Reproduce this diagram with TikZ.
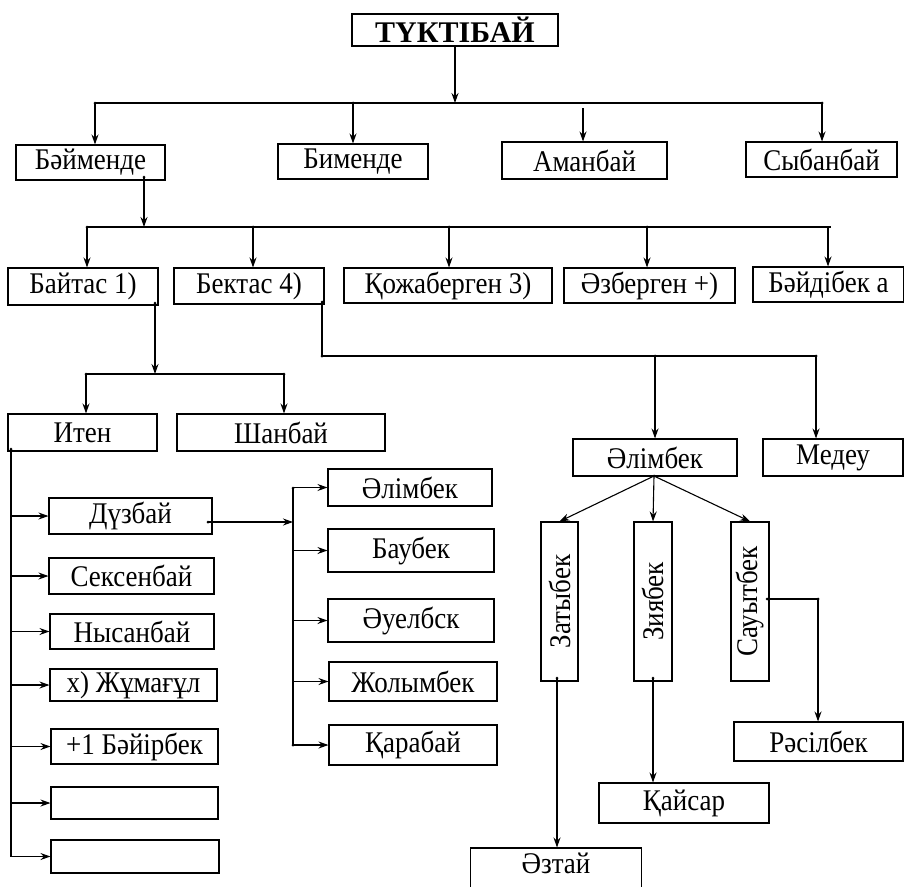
\documentclass[tikz,border=0pt]{standalone}
\usepackage{fontspec}
\setmainfont{Liberation Serif}[FakeStretch=0.9]
\newfontfamily\titlefont{Liberation Serif}
\usetikzlibrary{arrows.meta}
\tikzset{
  box/.style={draw, line width=1.1pt, inner sep=0pt, font=\fontsize{30}{31}\selectfont},
  arr/.style={line width=1.1pt, -{Stealth[length=10pt,width=7pt]}},
  ln/.style={line width=1.1pt},
  jdot/.style={circle, fill, inner sep=0pt, minimum size=3pt},
  vtext/.style={rotate=90, font=\fontsize{30}{31}\selectfont},
}
\begin{document}
\begin{tikzpicture}[x=1pt,y=-1pt]
\useasboundingbox[fill=white] (0,0) rectangle (904,886);
% nodes
\node[box, minimum width=206pt, minimum height=32pt, font=\titlefont\fontsize{30}{30}\selectfont\bfseries] (top) at (455,30) {ТҮКТІБАЙ};
\node[box, minimum width=149pt, minimum height=35pt] (b1) at (90.5,162.5) {Бәйменде};
\node[box, minimum width=150pt, minimum height=35pt] (b2) at (353,161.5) {Бименде};
\node[box, minimum width=165pt, minimum height=37pt] (b3) at (584.5,160.5) {Аманбай};
\node[box, minimum width=151pt, minimum height=35pt] (b4) at (821.5,159.5) {Сыбанбай};
\node[box, minimum width=150pt, minimum height=37pt] (c1) at (83,286.5) {Байтас 1)};
\node[box, minimum width=150pt, minimum height=36pt] (c2) at (249,286) {Бектас 4)};
\node[box, minimum width=208pt, minimum height=35pt] (c3) at (448,285.5) {Қожаберген 3)};
\node[box, minimum width=171pt, minimum height=35pt] (c4) at (649.5,285.5) {Әзберген +)};
\node[box, minimum width=151pt, minimum height=35pt] (c5) at (828.5,284.5) {Бәйдібек а};
\node[box, minimum width=149pt, minimum height=37pt] (d1) at (82.5,432.5) {Итен};
\node[box, minimum width=208pt, minimum height=37pt] (d2) at (281,432.5) {Шанбай};
\node[box, minimum width=164pt, minimum height=37pt] (d3) at (655,457.5) {Әлімбек};
\node[box, minimum width=140pt, minimum height=37pt] (d4) at (833,457.5) {Медеу};
\node[box, minimum width=163pt, minimum height=36pt] (e1) at (130.5,516) {Дүзбай};
\node[box, minimum width=165pt, minimum height=36pt] (e2) at (131.5,576) {Сексенбай};
\node[box, minimum width=164pt, minimum height=35pt] (e3) at (132,631.5) {Нысанбай};
\node[box, minimum width=167pt, minimum height=32pt] (e4) at (133.5,685) {х) Жұмағұл};
\node[box, minimum width=167pt, minimum height=35pt] (e5) at (134.5,746.5) {+1 Бәйірбек};
\node[box, minimum width=167pt, minimum height=32pt] (e6) at (134.5,803) {};
\node[box, minimum width=168pt, minimum height=33pt] (e7) at (135,856.5) {};
\node[box, minimum width=164pt, minimum height=37pt] (f1) at (410,487.5) {Әлімбек};
\node[box, minimum width=166pt, minimum height=43pt] (f2) at (411,550.5) {Баубек};
\node[box, minimum width=166pt, minimum height=43pt] (f3) at (411,620.5) {Әуелбск};
\node[box, minimum width=168pt, minimum height=39pt] (f4) at (413,681.5) {Жолымбек};
\node[box, minimum width=168pt, minimum height=40pt] (f5) at (413,745) {Қарабай};
\node[box, minimum width=37pt, minimum height=159pt] (g1) at (559.5,601.5) {};
\node[box, minimum width=38pt, minimum height=159pt] (g2) at (653,601.5) {};
\node[box, minimum width=38pt, minimum height=159pt] (g3) at (750,601.5) {};
\node[vtext] (g1t) at (g1) {Затыбек};
\node[vtext] (g2t) at (g2) {Зиябек};
\node[vtext] (g3t) at (g3) {Сауытбек};
\node[box, minimum width=169pt, minimum height=39pt] (h1) at (818.5,741.5) {Рәсілбек};
\node[box, minimum width=170pt, minimum height=40pt] (h2) at (684,803) {Қайсар};
\node[box, minimum width=171pt, minimum height=46pt, text depth=16pt] (h3) at (556,871) {Әзтай};
% coordinates
\coordinate (aC) at (455,103);
\coordinate (aL) at (95,103);
\coordinate (aR) at (822,103);
\coordinate (a2) at (353,103);
\coordinate (a3) at (583,108);
\coordinate (b1d) at (144,177);
\coordinate (bC) at (144,227);
\coordinate (bL) at (87,227);
\coordinate (bR) at (831,227);
\coordinate (b2c) at (253,227);
\coordinate (b3c) at (449,227);
\coordinate (b4c) at (647,227);
\coordinate (b5c) at (828,227);
\coordinate (c1d) at (155,303);
\coordinate (cC) at (155,374);
\coordinate (cL) at (86,374);
\coordinate (cR) at (284,374);
\coordinate (c2d) at (322,302);
\coordinate (dL) at (322,356);
\coordinate (dM) at (655,356);
\coordinate (dR) at (816,356);
\coordinate (sT) at (11,449);
\coordinate (sB) at (11,857);
\coordinate (e1d) at (208,522);
\coordinate (tJ) at (293,522);
\coordinate (tT) at (293,488);
\coordinate (tB) at (293,745);
\coordinate (d3d) at (654,476);
\coordinate (g3d) at (767,599);
\coordinate (g3r) at (818,599);
\coordinate (g2d) at (653,678);
\coordinate (g1d) at (557,678);
% top level
\draw[arr] (top.south) -- (aC);
\draw[ln] (aL) -- (aR);
\draw[arr] (aL) -- (aL |- b1.north);
\draw[arr] (a2) -- (a2 |- b2.north);
\draw[arr] (a3) -- (a3 |- b3.north);
\draw[arr] (aR) -- (aR |- b4.north);
% second level
\draw[arr] (b1d) -- (bC);
\draw[ln] (bL) -- (bR);
\draw[arr] (bL) -- (bL |- c1.north);
\draw[arr] (b2c) -- (b2c |- c2.north);
\draw[arr] (b3c) -- (b3c |- c3.north);
\draw[arr] (b4c) -- (b4c |- c4.north);
\draw[arr] (b5c) -- (b5c |- c5.north);
% Baitas
\draw[arr] (c1d) -- (cC);
\draw[ln] (cL) -- (cR);
\draw[arr] (cL) -- (cL |- d1.north);
\draw[arr] (cR) -- (cR |- d2.north);
% Bektas
\draw[ln] (c2d) -- (dL) -- (dR);
\draw[arr] (dM) -- (dM |- d3.north);
\draw[arr] (dR) -- (dR |- d4.north);
% Iten spine
\draw[ln] (sT) -- (sB);
\foreach \n in {e1,e2,e3,e4,e5,e6,e7} {
  \draw[arr] (sT |- \n.west) -- (\n.west);
}
% Duzbai
\draw[arr] (e1d) -- (tJ);
\draw[ln] (tT) -- (tB);
\foreach \n in {f1,f2,f3,f4,f5} {
  \draw[arr] (tT |- \n.west) -- (\n.west);
}
% Alimbek
\draw[arr] (d3d) -- (g1.north);
\draw[arr] (d3d) -- (g2.north);
\draw[arr] (d3d) -- (g3.north);
\draw[ln] (g3d) -- (g3r);
\draw[arr] (g3r) -- (h1.north -| g3r);
\draw[arr] (g2d) -- (h2.north -| g2d);
\draw[arr] (g1d) -- (h3.north -| g1d);
% junction dots
\foreach \p in {aL,aR,a2,b1d,bL,b2c,b3c,b4c,c1d,cL,cR,c2d,dL,dM,dR,sT,e1d,tT,tB,d3d,g3d,g3r,g2d,g1d} {
  \node[jdot] at (\p) {};
}
\end{tikzpicture}
\end{document}
